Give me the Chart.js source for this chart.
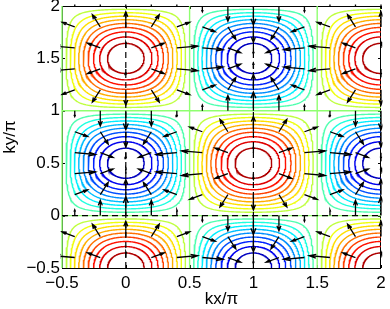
<!DOCTYPE html>
<html><head><meta charset="utf-8">
<script src="https://cdn.jsdelivr.net/npm/chart.js@4/dist/chart.umd.min.js"></script>
<style>html,body{margin:0;padding:0;background:#fff;}canvas{display:block}</style>
</head><body>
<canvas id="c" width="390" height="309"></canvas>
<script>
// ---- data ----
const xTicks = [-0.5, 0, 0.5, 1, 1.5, 2];
const yTicks = [-0.5, 0, 0.5, 1, 1.5, 2];
const contourLevels = [-0.9, -0.8, -0.7, -0.6, -0.5, -0.4, -0.3, -0.2, -0.1,
                        0.1, 0.2, 0.3, 0.4, 0.5, 0.6, 0.7, 0.8, 0.9];
const zeroLevel = 0;
const extremaKx   = [0, 1, 2, 0, 1, 2, 0, 1, 2];
const extremaKy   = [1.5, 1.5, 1.5, 0.5, 0.5, 0.5, -0.5, -0.5, -0.5];
const extremaSign = [1, -1, 1, -1, 1, -1, 1, -1, 1];
const zeroLineKx = [-0.5, 0.5, 1.5];
const zeroLineKy = [0, 1];
const dashedKx = [0, 1];
const dashedKy = [0];
const arrowKx = [-0.4, -0.2, 0, 0.2, 0.4, 0.6, 0.8, 1, 1.2, 1.4, 1.6, 1.8, 2];
const arrowKy = [-0.4, -0.2, 0, 0.2, 0.4, 0.6, 0.8, 1, 1.2, 1.4, 1.6, 1.8, 2];
const arrowScale = 0.18;
const colorRange = [-1, 1];

// ---- band model behind the contours / arrows: E = -cos(pi kx) sin(pi ky) ----
function cellMagnitude(a, b) { return Math.cos(Math.PI * a) * Math.cos(Math.PI * b); }
function downhill(kx, ky) {
  return [-Math.sin(Math.PI * kx) * Math.sin(Math.PI * ky),
           Math.cos(Math.PI * kx) * Math.cos(Math.PI * ky)];
}

// MATLAB jet(64)
function jet64(L) {
  const m = 64, n = 16, u = [];
  for (let i = 1; i <= n; i++) u.push(i / n);
  for (let i = 0; i < n - 1; i++) u.push(1);
  for (let i = n; i >= 1; i--) u.push(i / n);
  let k = Math.floor((L - colorRange[0]) / (colorRange[1] - colorRange[0]) * m) + 1;
  k = Math.max(1, Math.min(m, k));
  const g0 = 9;
  const pick = i => (i >= 0 && i < u.length) ? u[i] : 0;
  const r = pick(k - g0 - n), g = pick(k - g0), b = pick(k - g0 + n);
  return `rgb(${Math.round(r * 255)},${Math.round(g * 255)},${Math.round(b * 255)})`;
}

function contourLoop(cx, cy, level) {
  const pts = [], N = 360;
  for (let i = 0; i <= N; i++) {
    const t = 2 * Math.PI * i / N, c = Math.cos(t), s = Math.sin(t);
    const rmax = 0.5 / Math.max(Math.abs(c), Math.abs(s));
    let lo = 0, hi = rmax;
    for (let j = 0; j < 40; j++) {
      const mid = (lo + hi) / 2;
      if (cellMagnitude(mid * c, mid * s) > level) lo = mid; else hi = mid;
    }
    const r = (lo + hi) / 2;
    pts.push({x: cx + r * c, y: cy + r * s});
  }
  pts.push({x: null, y: null});
  return pts;
}

const datasets = [];

// arrows (quiver)
const arrowPts = [];
const ha = 0.33, hb = 0.33;
arrowKx.forEach(x => arrowKy.forEach(y => {
  const [u, v] = downhill(x, y);
  const uu = arrowScale * u, vv = arrowScale * v;
  if (Math.hypot(uu, vv) < 1e-6) return;
  const tx = x + uu, ty = y + vv;
  arrowPts.push({x, y}, {x: tx, y: ty}, {x: null, y: null});
  arrowPts.push({x: tx - ha * (uu + hb * vv), y: ty - ha * (vv - hb * uu)},
                {x: tx, y: ty},
                {x: tx - ha * (uu - hb * vv), y: ty - ha * (vv + hb * uu)},
                {x: null, y: null});
}));
datasets.push({data: arrowPts, showLine: true, borderColor: '#000', borderWidth: 1.3,
  pointRadius: 0, spanGaps: false, order: 0, clip: 1.5});

// dashed reference lines
const dashPts = [];
dashedKx.forEach(x => dashPts.push({x, y: -0.5}, {x, y: 2}, {x: null, y: null}));
dashedKy.forEach(y => dashPts.push({x: -0.5, y}, {x: 2, y}, {x: null, y: null}));
datasets.push({data: dashPts, showLine: true, borderColor: '#000', borderWidth: 1.2,
  borderDash: [6, 4], pointRadius: 0, spanGaps: false, order: 1, clip: 1});

// zero contour
const zeroPts = [];
zeroLineKx.forEach(x => zeroPts.push({x, y: -0.5}, {x, y: 2}, {x: null, y: null}));
zeroLineKy.forEach(y => zeroPts.push({x: -0.5, y}, {x: 2, y}, {x: null, y: null}));
datasets.push({data: zeroPts, showLine: true, borderColor: jet64(zeroLevel), borderWidth: 1.4,
  pointRadius: 0, spanGaps: false, order: 2, clip: 1});

// other contour levels
contourLevels.forEach(L => {
  const pts = [];
  extremaKx.forEach((cx, i) => {
    if (Math.sign(L) !== extremaSign[i]) return;
    pts.push(...contourLoop(cx, extremaKy[i], Math.abs(L)));
  });
  datasets.push({data: pts, showLine: true, borderColor: jet64(L), borderWidth: 1.4,
    pointRadius: 0, spanGaps: false, order: 3, clip: 0});
});

const fontFam = '"Liberation Sans", Arial, Helvetica, sans-serif';
const fmt = v => (v < 0 ? '\u2212' + (-v) : String(v));

const framePlugin = {
  id: 'frame',
  beforeDatasetsDraw(chart) {
    const {ctx, chartArea: a, scales: {x, y}} = chart;
    ctx.save();
    ctx.strokeStyle = '#000';
    ctx.lineWidth = 1;
    ctx.strokeRect(a.left + 0.5, a.top + 0.5, a.right - a.left - 1, a.bottom - a.top);
    ctx.beginPath();
    const tl = 3;
    xTicks.forEach(v => {
      const p = Math.round(x.getPixelForValue(v)) + 0.5;
      ctx.moveTo(p, a.bottom); ctx.lineTo(p, a.bottom - tl);
      ctx.moveTo(p, a.top); ctx.lineTo(p, a.top + tl);
    });
    yTicks.forEach(v => {
      const p = Math.round(y.getPixelForValue(v)) + 0.5;
      ctx.moveTo(a.left, p); ctx.lineTo(a.left + tl, p);
      ctx.moveTo(a.right, p); ctx.lineTo(a.right - tl, p);
    });
    ctx.stroke();
    ctx.restore();
  }
};

new Chart(document.getElementById('c').getContext('2d'), {
  type: 'scatter',
  data: {datasets},
  options: {
    responsive: false,
    animation: false,
    events: [],
    layout: {padding: {left: 0, right: 9, top: 6, bottom: 0}},
    plugins: {legend: {display: false}, tooltip: {enabled: false}},
    elements: {point: {radius: 0, hoverRadius: 0}, line: {tension: 0}},
    scales: {
      x: {
        type: 'linear', min: -0.5, max: 2,
        grid: {display: false, drawTicks: false}, border: {display: false},
        afterBuildTicks: s => { s.ticks = xTicks.map(v => ({value: v})); },
        ticks: {callback: fmt, font: {family: fontFam, size: 17}, color: '#000',
                padding: 5, maxRotation: 0, autoSkip: false},
        title: {display: true, text: 'kx/\u03c0', font: {family: fontFam, size: 17},
                color: '#000', padding: {top: 0, bottom: -1}},
        afterFit: s => { s.height = 41; s.paddingLeft = 0; s.paddingRight = 0; }
      },
      y: {
        type: 'linear', min: -0.5, max: 2,
        grid: {display: false, drawTicks: false}, border: {display: false},
        afterBuildTicks: s => { s.ticks = yTicks.map(v => ({value: v})); },
        ticks: {callback: fmt, font: {family: fontFam, size: 17}, color: '#000',
                padding: 2, autoSkip: false},
        title: {display: true, text: 'ky/\u03c0', font: {family: fontFam, size: 17},
                color: '#000', padding: 0},
        afterFit: s => { s.width = 62; s.paddingTop = 0; s.paddingBottom = 0; }
      }
    }
  },
  plugins: [framePlugin]
});
</script>
</body></html>
